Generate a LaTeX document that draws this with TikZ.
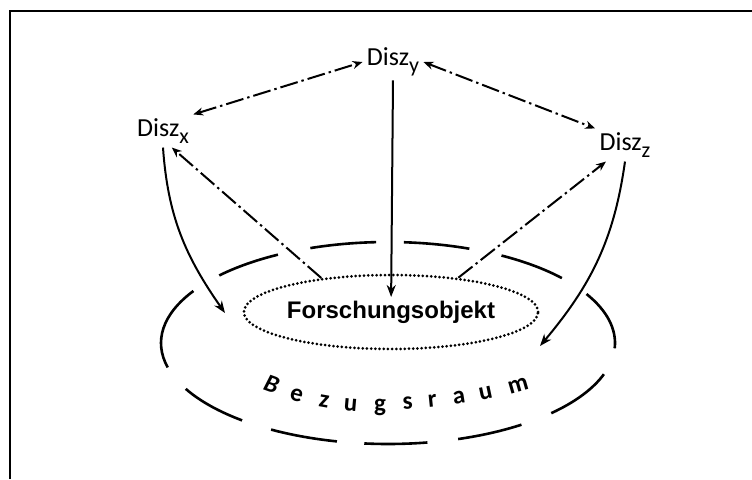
\documentclass[tikz,border=0pt]{standalone}
\usepackage{fontspec}
\setmainfont{Carlito}
\newfontfamily\arialfont{Liberation Sans}
\usetikzlibrary{arrows.meta,shapes.geometric,positioning}
\tikzset{>=Stealth,
  otip/.tip={Stealth[open,length=5pt,width=4pt]},
  stip/.tip={Stealth[length=6pt,width=4.5pt]}}
\newcommand{\dsub}[1]{\raisebox{-3.2pt}{\fontsize{11}{12}\selectfont #1}}

\begin{document}
\begin{tikzpicture}[x=0.5pt, y=0.5pt,
  disz/.style={inner sep=2pt, font=\fontsize{13}{15}\selectfont},
  dashdotline/.style={line width=1pt, dash pattern=on 9pt off 2pt on 1.2pt off 2pt},
  solidarrow/.style={line width=1pt, -stip},
  ringdash/.style={line width=1.3pt},
  bzletter/.style={anchor=base, inner sep=0pt, font=\bfseries\fontsize{12.5}{14}\selectfont}]
  \useasboundingbox (0,0) rectangle (752,479);
  % frame
  \draw[line width=1.3pt] (10,0) -- (10,468) -- (752,468);

  % disciplines
  \node[disz] (dy) at (393,417) {Disz\dsub{y}};
  \node[disz] (dx) at (163,348) {Disz\dsub{x}};
  \node[disz] (dz) at (625,334) {Disz\dsub{z}};

  % research object
  \node[ellipse, draw, line width=1.5pt, line cap=round, dash pattern=on 0pt off 2.1pt,
    minimum width=141pt, minimum height=37pt, inner sep=0pt,
    font=\arialfont\bfseries\fontsize{12}{14}\selectfont] (fo) at (391,167) {Forschungsobjekt};

  % reference space, dashed ring
  \coordinate (ring) at (388,136);
  \foreach \a/\b in {-3/29, -44/-18, -72/-54, -96/-80, -121/-103, -153/-130,
                     -211/-166, -241/-222, -267/-250, -291/-274, -320/-300}
    \draw[ringdash] ([shift={(\a:227 and 101)}]ring) arc[start angle=\a, end angle=\b, x radius=227, y radius=101];
  \foreach \ch/\px/\py/\rot [count=\i] in {{\itshape B}/269/87/-20, e/295/78/-15, z/323/72/-10,
      u/350/68/-5, g/380/68/0, s/408/70/4, r/433/72/6, a/460/75/9, u/487/80/12, m/520/87/16}
    \node[bzletter, rotate=\rot] (bz\i) at (\px,\py) {\ch};

  \coordinate (ax) at (225,166);
  \coordinate (az) at (540,133);

  % connectors
  \draw[dashdotline, otip-otip] (dx.north east) -- (dy.west);
  \draw[dashdotline, otip-otip] (dy.east) -- (dz.north west);
  \draw[solidarrow, shorten >=7.5pt] (dy.south) -- (fo.center);
  \draw[dashdotline, -otip] (fo.154) -- (dx.-62);
  \draw[dashdotline, -otip] (fo.27) -- (dz.221);
  \draw[solidarrow] (dx.south) to[out=-86, in=125] (ax);
  \draw[solidarrow] (dz.south) to[out=-98, in=50] (az);
\end{tikzpicture}
\end{document}
